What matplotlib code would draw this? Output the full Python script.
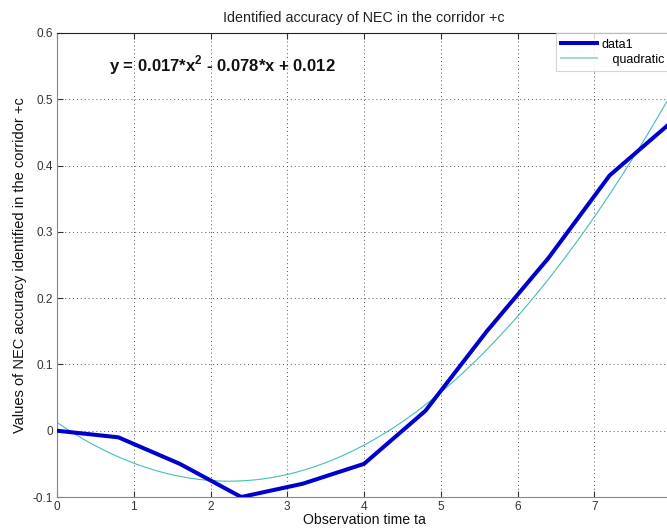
import matplotlib
matplotlib.use('Agg')
import matplotlib.pyplot as plt
import numpy as np

# observation times and identified NEC accuracy values
ta = [0.0, 0.8, 1.6, 2.4, 3.2, 4.0, 4.8, 5.6, 6.4, 7.2, 8.0]
nec = [0.0, -0.01, -0.05, -0.10, -0.08, -0.05, 0.03, 0.15, 0.26, 0.385, 0.465]

x_ticks = [0, 1, 2, 3, 4, 5, 6, 7, 8]
x_ticklabels = ['0', '1', '2', '3', '4', '5', '6', '7', '']
y_ticks = [-0.1, 0, 0.1, 0.2, 0.3, 0.4, 0.5, 0.6]
y_ticklabels = ['-0.1', '0', '0.1', '0.2', '0.3', '0.4', '0.5', '0.6']

plt.rcParams['font.family'] = ['Liberation Sans', 'DejaVu Sans']
plt.rcParams['mathtext.fontset'] = 'custom'
plt.rcParams['mathtext.bf'] = 'Liberation Sans:bold'
plt.rcParams['mathtext.rm'] = 'Liberation Sans'

fig = plt.figure(figsize=(6.67, 5.31), dpi=100)
ax = fig.add_axes([0.0855, 0.064, 0.9205, 0.874])

# quadratic fit through the data (basic fitting)
coef = np.polyfit(ta, nec, 2)
xf = np.linspace(0, 8, 200)
yf = np.polyval(coef, xf)

ax.plot(ta, nec, color='#0000cc', lw=2.9, label='data1', solid_joinstyle='miter', zorder=3)
ax.plot(xf, yf, color='#45bcbc', lw=0.8, label='   quadratic', zorder=2)

ax.set_xlim(0, 8)
ax.set_ylim(-0.1, 0.6)
ax.set_xticks(x_ticks)
ax.set_xticklabels(x_ticklabels)
ax.set_yticks(y_ticks)
ax.set_yticklabels(y_ticklabels)
ax.tick_params(direction='in', top=True, right=False, labelsize=8.5, length=4,
               width=0.8, colors='#333333')
ax.tick_params(axis='x', pad=3)
ax.tick_params(axis='y', pad=3)
ax.grid(True, linestyle=(0, (1, 3)), color='#555555', lw=0.7)
for s in ['left', 'bottom']:
    ax.spines[s].set_color('#888888')
ax.spines['top'].set_color('#222222')
ax.spines['right'].set_visible(False)

ax.set_title('Identified accuracy of NEC in the corridor +c', fontsize=10.3, pad=8, color='#222222')
ax.set_xlabel('Observation time ta', fontsize=10.2, labelpad=0, color='#111111')
ax.set_ylabel('Values of NEC accuracy identified in the corridor +c', fontsize=10.5,
              labelpad=4, color='#111111')

ax.text(0.68, 0.552, r'y = 0.017*x$^{\mathbf{2}}$ - 0.078*x + 0.012', fontsize=12,
        fontweight='bold', va='center', ha='left', color='#111111')

leg = ax.legend(loc='upper left', bbox_to_anchor=(0.812, 1.0), fontsize=9,
                frameon=True, fancybox=False, borderaxespad=0, handlelength=2.9,
                handletextpad=0.35, borderpad=0.45, labelspacing=0.25)
leg.get_frame().set_edgecolor('#cccccc')
leg.get_frame().set_linewidth(0.8)
leg.get_lines()[1].set_color('#a6d6d6')
leg.get_lines()[1].set_linewidth(1.5)

fig.savefig('out.png', dpi=100)
